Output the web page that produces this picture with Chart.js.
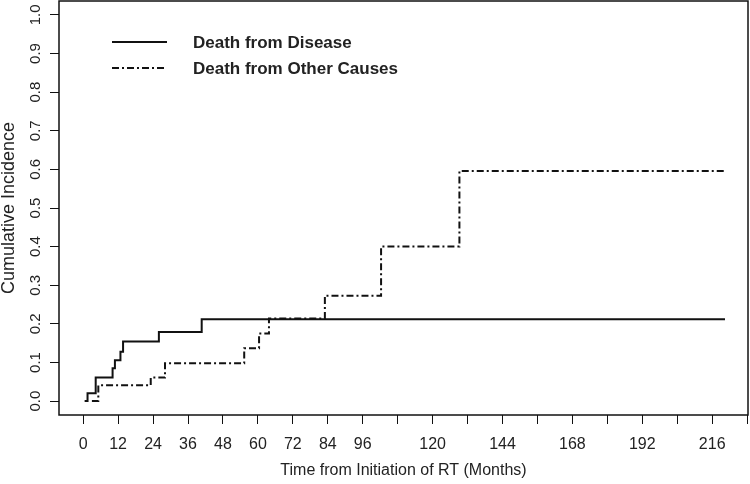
<!DOCTYPE html>
<html>
<head>
<meta charset="utf-8">
<script src="https://cdn.jsdelivr.net/npm/chart.js@4.4.1/dist/chart.umd.min.js"></script>
<style>
  html, body { margin: 0; padding: 0; background: #fff; }
  #ci { display: block; }
</style>
</head>
<body>
<canvas id="ci" width="750" height="484"></canvas>
<script>
// step times (months) and cumulative incidence
const diseaseTime = [0.5, 1.5, 4.3, 10.1, 10.9, 12.8, 13.7, 26.0, 40.7, 220.4];
const diseaseCI   = [0, 0.020, 0.061, 0.085, 0.106, 0.128, 0.154, 0.179, 0.212, 0.212];
const otherTime = [3.0, 5.2, 23.2, 28.1, 55.3, 60.4, 63.8, 83.0, 102.3, 129.2, 220.4];
const otherCI   = [0, 0.041, 0.061, 0.098, 0.137, 0.175, 0.214, 0.273, 0.400, 0.596, 0.596];

const seriesNames = ['Death from Disease', 'Death from Other Causes'];

const xTickValues = [0, 12, 24, 36, 48, 60, 72, 84, 96, 108, 120, 132, 144, 156, 168, 180, 192, 204, 216, 228];
const xTickLabels = ['0', '12', '24', '36', '48', '60', '72', '84', '96', '', '120', '', '144', '', '168', '', '192', '', '216', ''];
const yTickValues = [0, 0.1, 0.2, 0.3, 0.4, 0.5, 0.6, 0.7, 0.8, 0.9, 1.0];
const yTickLabels = ['0.0', '0.1', '0.2', '0.3', '0.4', '0.5', '0.6', '0.7', '0.8', '0.9', '1.0'];

const ink = '#111';
const textInk = '#222';
const fontFam = '"Liberation Sans", Arial, Helvetica, sans-serif';

function toPoints(xs, ys) {
  return xs.map((x, i) => ({ x: x, y: ys[i] }));
}

// box around the plot region, like R's bty="o"
const boxPlugin = {
  id: 'box',
  afterDraw(chart) {
    const a = chart.chartArea, ctx = chart.ctx;
    ctx.save();
    ctx.strokeStyle = ink;
    ctx.lineWidth = 1.5;
    ctx.strokeRect(a.left, a.top, a.right - a.left, a.bottom - a.top);
    ctx.restore();
  }
};

// legend without a frame, top-left inside the plot
const legendPlugin = {
  id: 'rlegend',
  afterDraw(chart) {
    const ctx = chart.ctx;
    const rows = [42, 68];
    ctx.save();
    chart.data.datasets.forEach((ds, i) => {
      const y = rows[i];
      ctx.strokeStyle = ds.borderColor;
      ctx.lineWidth = ds.borderWidth;
      ctx.setLineDash(ds.borderDash || []);
      ctx.beginPath();
      ctx.moveTo(112, y);
      ctx.lineTo(167, y);
      ctx.stroke();
      ctx.setLineDash([]);
      ctx.fillStyle = textInk;
      ctx.font = 'bold 17px ' + fontFam;
      ctx.textBaseline = 'middle';
      ctx.textAlign = 'left';
      ctx.fillText(ds.label, 193, y + 1);
    });
    ctx.restore();
  }
};

const data = {
  datasets: [{
    label: seriesNames[0],
    data: toPoints(diseaseTime, diseaseCI),
    borderColor: ink,
    borderWidth: 2,
    stepped: 'before',
    pointRadius: 0,
    fill: false
  }, {
    label: seriesNames[1],
    data: toPoints(otherTime, otherCI),
    borderColor: ink,
    borderWidth: 2,
    borderDash: [7, 3, 2, 3],
    stepped: 'before',
    pointRadius: 0,
    fill: false
  }]
};

const config = {
  type: 'line',
  data,
  plugins: [boxPlugin, legendPlugin],
  options: {
    responsive: false,
    animation: false,
    devicePixelRatio: 1,
    layout: { padding: { top: 1, right: 2, left: 0, bottom: 0 } },
    plugins: {
      legend: { display: false },
      tooltip: { enabled: false }
    },
    scales: {
      x: {
        type: 'linear',
        min: -8.3,
        max: 228.3,
        afterBuildTicks(scale) {
          scale.ticks = xTickValues.map(v => ({ value: v }));
        },
        afterFit(scale) {
          scale.height = 69;
          scale.paddingLeft = 0;
          scale.paddingRight = 0;
        },
        ticks: {
          autoSkip: false,
          maxRotation: 0,
          minRotation: 0,
          padding: 11,
          color: textInk,
          font: { family: fontFam, size: 16 },
          callback(value, index) {
            return xTickLabels[index];
          }
        },
        grid: {
          display: true,
          drawOnChartArea: false,
          drawTicks: true,
          tickLength: 9,
          color: ink,
          lineWidth: 1
        },
        border: { display: false },
        title: {
          display: true,
          text: 'Time from Initiation of RT (Months)',
          color: textInk,
          font: { family: fontFam, size: 16, lineHeight: 1 },
          padding: { top: 0, bottom: 5 }
        }
      },
      y: {
        type: 'linear',
        min: -0.036,
        max: 1.036,
        afterBuildTicks(scale) {
          scale.ticks = yTickValues.map(v => ({ value: v }));
        },
        afterFit(scale) {
          scale.width = 59;
          scale.paddingTop = 0;
          scale.paddingBottom = 0;
        },
        ticks: {
          autoSkip: false,
          minRotation: 90,
          maxRotation: 90,
          crossAlign: 'center',
          padding: 4,
          color: textInk,
          font: { family: fontFam, size: 15 },
          callback(value, index) {
            return yTickLabels[index];
          }
        },
        grid: {
          display: true,
          drawOnChartArea: false,
          drawTicks: true,
          tickLength: 9,
          color: ink,
          lineWidth: 1
        },
        border: { display: false },
        title: {
          display: true,
          text: 'Cumulative Incidence',
          color: textInk,
          font: { family: fontFam, size: 18, lineHeight: 1 },
          padding: { top: 0, bottom: 0 }
        }
      }
    }
  }
};

const ciChart = new Chart(document.getElementById('ci'), config);
</script>
</body>
</html>
